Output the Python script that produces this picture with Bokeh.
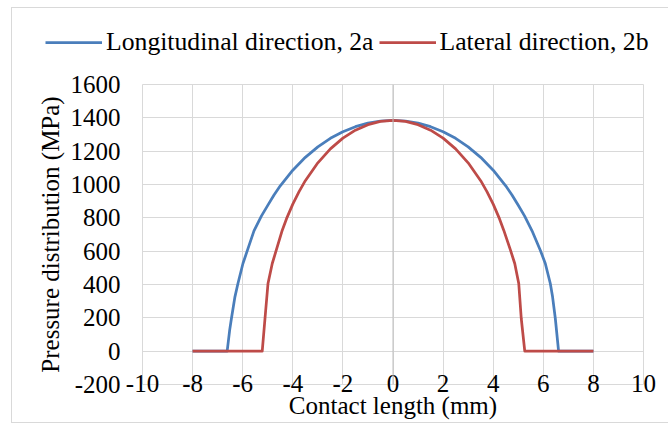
from bokeh.plotting import figure
from bokeh.models import Range1d, FixedTicker, Legend, LegendItem, Span, CustomJSTickFormatter
from bokeh.layouts import column, row
from bokeh.embed import file_html
from bokeh.resources import INLINE

# Longitudinal direction, 2a (blue)
long_x = [-8, -6.62, -6.52, -6.45, -6.31, -6.19, -5.99, -5.81, -5.55, -5.25, -5.0, -4.75, -4.5, -4.0,
          -3.5, -3.0, -2.5, -2.0, -1.5, -1.0, -0.5, 0.0, 0.5, 1.0, 1.5, 2.0, 2.5, 3.0, 3.5,
          4.0, 4.5, 4.75, 5.0, 5.25, 5.55, 5.88, 6.08, 6.28, 6.37, 6.48, 6.61, 8]
long_p = [0, 0, 126, 196, 326, 406, 526, 606, 722, 812, 875, 937, 992, 1086,
          1163, 1226, 1277, 1317, 1347, 1368, 1381, 1385, 1381, 1368, 1347, 1317, 1277, 1226, 1163,
          1086, 992, 937, 875, 812, 722, 606, 526, 406, 326, 196, 0, 0]

# Lateral direction, 2b (red)
lat_x = [-8, -5.22, -5.11, -4.99, -4.82, -4.66, -4.42, -4.25, -4.0, -3.75, -3.5, -3.0, -2.5, -2.0,
         -1.5, -1.0, -0.5, 0.0, 0.5, 1.0, 1.5, 2.0, 2.5, 3.0, 3.5, 3.75, 4.0, 4.25,
         4.42, 4.69, 4.86, 5.02, 5.12, 5.26, 8]
lat_p = [0, 0, 196, 406, 526, 606, 726, 795, 882, 957, 1023, 1130, 1214, 1278,
         1326, 1359, 1379, 1385, 1379, 1359, 1326, 1278, 1214, 1130, 1023, 957, 882, 795,
         726, 606, 526, 406, 196, 0, 0]

series_names = ["Longitudinal direction, 2a", "Lateral direction, 2b"]
x_ticks = [-10, -8, -6, -4, -2, 0, 2, 4, 6, 8, 10]
y_ticks = [-200, 0, 200, 400, 600, 800, 1000, 1200, 1400, 1600]

FONT = "Liberation Serif"
GRID = "#d9d9d9"
BLUE = "#4a7ebb"
RED = "#be4b48"

# ---- legend strip (own figure so the legend may sit left of the plot frame)
lf = figure(width=656, height=62, output_backend="svg", toolbar_location=None,
            x_axis_type=None, y_axis_type=None, x_range=Range1d(100, 101), y_range=Range1d(100, 101),
            min_border=0, min_border_left=0, min_border_right=0, min_border_top=0, min_border_bottom=0)
lf.outline_line_color = None
lf.background_fill_color = "white"
lf.border_fill_color = "white"
lr1 = lf.line(long_x, long_p, line_color=BLUE, line_width=2.75)
lr2 = lf.line(lat_x, lat_p, line_color=RED, line_width=2.75)
legend = Legend(items=[LegendItem(label=series_names[0], renderers=[lr1]),
                       LegendItem(label=series_names[1], renderers=[lr2])],
                orientation="horizontal", location=(33, 13))
legend.label_text_font = FONT
legend.label_text_font_size = "25.7px"
legend.label_text_color = "black"
legend.glyph_width = 57
legend.glyph_height = 28
legend.label_height = 28
legend.label_standoff = 4
legend.spacing = 5
legend.padding = 0
legend.margin = 0
legend.border_line_color = None
legend.background_fill_alpha = 0
lf.add_layout(legend, "center")

# ---- main chart
p = figure(width=656, height=352, output_backend="svg", toolbar_location=None,
           x_range=Range1d(-10, 10), y_range=Range1d(-200, 1600),
           min_border_left=130, min_border_right=25, min_border_top=14, min_border_bottom=38)
p.background_fill_color = "white"
p.border_fill_color = "white"
p.outline_line_color = GRID

fmt = CustomJSTickFormatter(code="return tick.toString();")
for ax in (p.xaxis[0], p.yaxis[0]):
    ax.axis_line_color = None
    ax.major_tick_line_color = None
    ax.minor_tick_line_color = None
    ax.major_tick_out = 0
    ax.major_tick_in = 0
    ax.formatter = fmt
    ax.major_label_text_font = FONT
    ax.major_label_text_font_size = "25px"
    ax.major_label_text_color = "black"
    ax.axis_label_text_font = FONT
    ax.axis_label_text_font_size = "25px"
    ax.axis_label_text_font_style = "normal"
    ax.axis_label_text_color = "black"

p.xaxis[0].ticker = FixedTicker(ticks=x_ticks)
p.yaxis[0].ticker = FixedTicker(ticks=y_ticks)
p.xaxis[0].axis_label = "Contact length (mm)"
p.yaxis[0].axis_label = "Pressure distribution (MPa)"
p.xaxis[0].major_label_standoff = -10
p.xaxis[0].axis_label_standoff = -3
p.yaxis[0].major_label_standoff = 22
p.yaxis[0].axis_label_standoff = 4

p.xgrid[0].ticker = FixedTicker(ticks=x_ticks)
p.ygrid[0].ticker = FixedTicker(ticks=y_ticks)
p.xgrid.grid_line_color = GRID
p.ygrid.grid_line_color = GRID

p.add_layout(Span(location=0, dimension="height", line_color="#bfbfbf", line_width=1))

p.line(long_x, long_p, line_color=BLUE, line_width=2.75, line_join="round")
p.line(lat_x, lat_p, line_color=RED, line_width=2.75, line_join="round")

layout = column(row(lf, spacing=0), p, spacing=0, margin=(8, 0, 0, 12),
                styles={"outline": "1px solid #d9d9d9"})

open("out.html", "w").write(file_html(layout, INLINE))
